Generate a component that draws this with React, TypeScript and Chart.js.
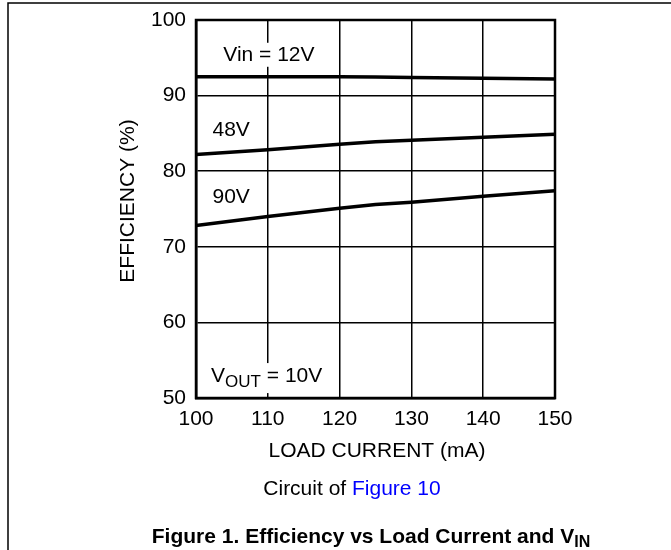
import React, { useEffect, useRef } from "react";
import { Chart, registerables } from "chart.js";

Chart.register(...registerables);

const loadCurrent = [100, 110, 120, 125, 130, 140, 150];
const eff12V = [92.5, 92.5, 92.5, 92.45, 92.4, 92.3, 92.2];
const eff48V = [82.2, 82.85, 83.55, 83.9, 84.1, 84.5, 84.9];
const eff90V = [72.8, 74.0, 75.1, 75.6, 75.9, 76.7, 77.4];

const xTicks = [100, 110, 120, 130, 140, 150];
const yTicks = [50, 60, 70, 80, 90, 100];

const FONT = "'Liberation Sans', Arial, Helvetica, sans-serif";
const FS = 21;

const seriesLabels = [
  { text: "Vin = 12V", x: 103.8, y: 95.4 },
  { text: "48V", x: 102.3, y: 85.45 },
  { text: "90V", x: 102.3, y: 76.5 },
];

function toPoints(ys: number[]) {
  return loadCurrent.map((x, i) => ({ x, y: ys[i] }));
}

const overlay = {
  id: "overlay",
  afterDraw(chart: any) {
    const { ctx, chartArea, scales } = chart;
    const xs = scales.x;
    const ys = scales.y;
    ctx.save();
    // page frame
    ctx.strokeStyle = "#000";
    ctx.lineWidth = 1.5;
    ctx.beginPath();
    ctx.moveTo(8, 551);
    ctx.lineTo(8, 3);
    ctx.lineTo(672, 3);
    ctx.stroke();

    // plot frame
    ctx.lineWidth = 2.5;
    ctx.strokeRect(chartArea.left, chartArea.top, chartArea.right - chartArea.left, chartArea.bottom - chartArea.top);

    ctx.textBaseline = "middle";
    ctx.textAlign = "left";
    ctx.font = `${FS}px ${FONT}`;
    // series labels
    for (const l of seriesLabels) {
      const px = xs.getPixelForValue(l.x);
      const py = ys.getPixelForValue(l.y);
      const w = ctx.measureText(l.text).width;
      ctx.fillStyle = "#fff";
      ctx.fillRect(px - 3, py - 12, w + 6, 24);
      ctx.fillStyle = "#000";
      ctx.fillText(l.text, px, py);
    }

    // VOUT = 10V
    {
      const px = xs.getPixelForValue(102.1);
      const py = ys.getPixelForValue(52.9);
      ctx.font = `${FS}px ${FONT}`;
      const wV = ctx.measureText("V").width;
      ctx.font = `17px ${FONT}`;
      const wSub = ctx.measureText("OUT").width;
      ctx.font = `${FS}px ${FONT}`;
      const wRest = ctx.measureText(" = 10V").width;
      ctx.fillStyle = "#fff";
      ctx.fillRect(px - 3, py - 13, wV + wSub + wRest + 6, 30);
      ctx.fillStyle = "#000";
      ctx.fillText("V", px, py);
      ctx.font = `17px ${FONT}`;
      ctx.fillText("OUT", px + wV, py + 6);
      ctx.font = `${FS}px ${FONT}`;
      ctx.fillText(" = 10V", px + wV + wSub, py);
    }

    // axis titles
    ctx.fillStyle = "#000";
    ctx.font = `${FS}px ${FONT}`;
    ctx.textAlign = "center";
    ctx.fillText("LOAD CURRENT (mA)", 377, 451);
    ctx.save();
    ctx.translate(128, 201);
    ctx.rotate(-Math.PI / 2);
    ctx.fillText("EFFICIENCY (%)", 0, 0);
    ctx.restore();

    // Circuit of Figure 10
    {
      ctx.font = `${FS}px ${FONT}`;
      const a = "Circuit of ";
      const b = "Figure 10";
      const wa = ctx.measureText(a).width;
      const wb = ctx.measureText(b).width;
      const start = 352 - (wa + wb) / 2;
      ctx.textAlign = "left";
      ctx.fillStyle = "#000";
      ctx.fillText(a, start, 489);
      ctx.fillStyle = "#0000ff";
      ctx.fillText(b, start + wa, 489);
    }

    // caption
    {
      const main = "Figure 1. Efficiency vs Load Current and V";
      ctx.font = `bold 21px ${FONT}`;
      const wm = ctx.measureText(main).width;
      ctx.font = `bold 16px ${FONT}`;
      const ws = ctx.measureText("IN").width;
      const start = 371 - (wm + ws) / 2;
      ctx.fillStyle = "#000";
      ctx.textAlign = "left";
      ctx.font = `bold 21px ${FONT}`;
      ctx.fillText(main, start, 537);
      ctx.font = `bold 16px ${FONT}`;
      ctx.fillText("IN", start + wm, 543);
    }
    ctx.restore();
  },
};

export default function App() {
  const ref = useRef<HTMLCanvasElement | null>(null);
  useEffect(() => {
    if (!ref.current) return;
    const chart = new Chart(ref.current, {
      type: "line",
      data: {
        datasets: [
          { label: "12V", data: toPoints(eff12V) },
          { label: "48V", data: toPoints(eff48V) },
          { label: "90V", data: toPoints(eff90V) },
        ].map((d) => ({
          ...d,
          borderColor: "#000",
          borderWidth: 3.5,
          pointRadius: 0,
          tension: 0,
          fill: false,
        })),
      },
      options: {
        animation: false,
        responsive: false,
        events: [],
        layout: { padding: { left: 0, top: 20, right: 116, bottom: 0 } },
        plugins: { legend: { display: false }, tooltip: { enabled: false } },
        scales: {
          x: {
            type: "linear",
            min: 100,
            max: 150,
            afterBuildTicks: (s: any) => {
              s.ticks = xTicks.map((v) => ({ value: v }));
            },
            afterFit: (s: any) => {
              s.height = 152;
              s.paddingLeft = 0;
              s.paddingRight = 0;
            },
            grid: { color: "#000", lineWidth: 1.5, drawTicks: false },
            border: { color: "#000", width: 2.5 },
            ticks: {
              color: "#000",
              font: { family: FONT, size: FS },
              padding: 9,
              maxRotation: 0,
            },
          },
          y: {
            type: "linear",
            min: 50,
            max: 100,
            afterBuildTicks: (s: any) => {
              s.ticks = yTicks.map((v) => ({ value: v }));
            },
            afterFit: (s: any) => {
              s.width = 196;
              s.paddingTop = 0;
              s.paddingBottom = 0;
            },
            grid: { color: "#000", lineWidth: 1.5, drawTicks: false },
            border: { color: "#000", width: 2.5 },
            ticks: {
              color: "#000",
              font: { family: FONT, size: FS },
              padding: 10,
            },
          },
        },
      },
      plugins: [overlay],
    });
    return () => chart.destroy();
  }, []);
  return (
    <div style={{ position: "fixed", left: 0, top: 0, width: 671, height: 550, background: "#fff" }}>
      <canvas ref={ref} width={671} height={550} style={{ display: "block" }} />
    </div>
  );
}
